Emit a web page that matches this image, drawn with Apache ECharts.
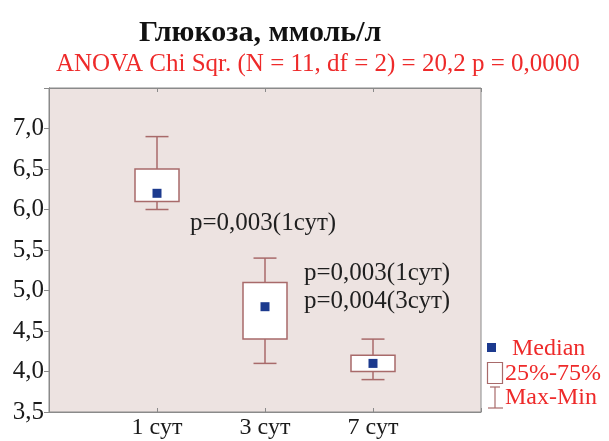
<!DOCTYPE html>
<html>
<head>
<meta charset="utf-8">
<script src="https://cdn.jsdelivr.net/npm/echarts@6/dist/echarts.min.js"></script>
<style>
  html, body { margin: 0; padding: 0; background: #fff; }
  #chart { width: 609px; height: 441px; }
</style>
</head>
<body>
<div id="chart"></div>
<script>
// Glucose by day: min, lower quartile, median, upper quartile, max
const categories = ['1 сут', '3 сут', '7 сут'];
const minValues = [6.0, 4.1, 3.9];
const q1Values = [6.1, 4.4, 4.0];
const medianValues = [6.2, 4.8, 4.1];
const q3Values = [6.5, 5.1, 4.2];
const maxValues = [6.9, 5.4, 4.4];
const yTicks = { min: 3.5, max: 7.5, step: 0.5 };

const titleText = 'Глюкоза, ммоль/л';
const subtitleText = 'ANOVA Chi Sqr. (N = 11, df = 2) = 20,2 p = 0,0000';
const pNotes = [
  { text: 'p=0,003(1сут)', x: 190, y: 209 },
  { text: 'p=0,003(1сут)\np=0,004(3сут)', x: 304, y: 259 }
];
const legendItems = ['Median', '25%-75%', 'Max-Min'];

const SERIF = '"Liberation Serif", "Times New Roman", serif';
const BOX_COLOR = '#a86a6a';
const MEDIAN_COLOR = '#1c3a8e';
const RED = '#ee2a2a';

// category positions on a numeric axis: 1, 2, 3 inside [0, 4]
const boxData = categories.map((c, i) => [i + 1, minValues[i], q1Values[i], medianValues[i], q3Values[i], maxValues[i]]);
const medianData = categories.map((c, i) => [i + 1, medianValues[i]]);

const fmtNum = v => v.toFixed(1).replace('.', ',');

function renderBox(params, api) {
  const x = api.value(0);
  const pMin = api.coord([x, api.value(1)]);
  const pQ1 = api.coord([x, api.value(2)]);
  const pQ3 = api.coord([x, api.value(4)]);
  const pMax = api.coord([x, api.value(5)]);
  const halfBox = 22, halfCap = 11.5;
  const cx = pMin[0];
  const lineStyle = { stroke: BOX_COLOR, lineWidth: 1.5, fill: null };
  return {
    type: 'group',
    children: [
      { type: 'line', shape: { x1: cx, y1: pMax[1], x2: cx, y2: pQ3[1] }, style: lineStyle },
      { type: 'line', shape: { x1: cx, y1: pQ1[1], x2: cx, y2: pMin[1] }, style: lineStyle },
      { type: 'line', shape: { x1: cx - halfCap, y1: pMax[1], x2: cx + halfCap, y2: pMax[1] }, style: lineStyle },
      { type: 'line', shape: { x1: cx - halfCap, y1: pMin[1], x2: cx + halfCap, y2: pMin[1] }, style: lineStyle },
      { type: 'rect', shape: { x: cx - halfBox, y: pQ3[1], width: halfBox * 2, height: pQ1[1] - pQ3[1] },
        style: { fill: '#ffffff', stroke: BOX_COLOR, lineWidth: 1.5 } }
    ]
  };
}

const chart = echarts.init(document.getElementById('chart'), null, { renderer: 'canvas' });

const legendX = 487, legendY = 349, legendStep = 24.5;

chart.setOption({
  animation: false,
  backgroundColor: '#ffffff',
  title: [
    { text: titleText, left: 134, top: 13,
      textStyle: { fontFamily: SERIF, fontWeight: 'bold', fontSize: 30, color: '#111' } },
    { text: subtitleText, left: 51, top: 47,
      textStyle: { fontFamily: SERIF, fontWeight: 'normal', fontSize: 25, color: RED } }
  ],
  grid: {
    left: 49, right: 128, top: 88, bottom: 29,
    show: true, backgroundColor: '#ede3e1', borderColor: '#8a8a8a', borderWidth: 1
  },
  xAxis: [
    {
      type: 'value', min: 0, max: 4, interval: 1, position: 'bottom',
      axisLine: { show: true, lineStyle: { color: '#8a8a8a' } },
      axisTick: { show: true, inside: true, length: 4, lineStyle: { color: '#8a8a8a' } },
      axisLabel: {
        fontFamily: SERIF, fontSize: 24, color: '#1a1a1a', margin: 4,
        formatter: v => categories[v - 1] || ''
      },
      splitLine: { show: false }
    },
    {
      type: 'value', min: 0, max: 4, interval: 1, position: 'top',
      axisLine: { show: true, lineStyle: { color: '#8a8a8a' } },
      axisTick: { show: true, inside: true, length: 4, lineStyle: { color: '#8a8a8a' } },
      axisLabel: { show: false },
      splitLine: { show: false }
    }
  ],
  yAxis: [
    {
      type: 'value', min: yTicks.min, max: yTicks.max, interval: yTicks.step, position: 'left',
      axisLine: { show: true, lineStyle: { color: '#8a8a8a' } },
      axisTick: { show: true, inside: false, length: 3, lineStyle: { color: '#8a8a8a' } },
      axisLabel: {
        fontFamily: SERIF, fontSize: 25, color: '#1a1a1a', margin: 5,
        showMaxLabel: false, formatter: fmtNum
      },
      splitLine: { show: false }
    },
    {
      type: 'value', min: yTicks.min, max: yTicks.max, interval: yTicks.step, position: 'right',
      axisLine: { show: true, lineStyle: { color: '#8a8a8a' } },
      axisTick: { show: true, inside: true, length: 5, lineStyle: { color: '#8a8a8a' } },
      axisLabel: { show: false },
      splitLine: { show: false }
    }
  ],
  series: [
    {
      type: 'custom', name: '25%-75%', xAxisIndex: 0, yAxisIndex: 0,
      renderItem: renderBox, data: boxData, z: 2,
      encode: { x: 0, y: [1, 2, 3, 4, 5] }
    },
    {
      type: 'scatter', name: 'Median', xAxisIndex: 0, yAxisIndex: 0,
      symbol: 'rect', symbolSize: 9, data: medianData, z: 3,
      itemStyle: { color: MEDIAN_COLOR, opacity: 1 }
    }
  ],
  graphic: [
    ...pNotes.map(n => ({
      type: 'text', left: n.x, top: n.y, z: 10,
      style: { text: n.text, font: '25px ' + SERIF, fill: '#1f1f1f', lineHeight: 28 }
    })),
    // legend
    { type: 'rect', shape: { x: legendX, y: legendY - 6, width: 9, height: 9 }, style: { fill: MEDIAN_COLOR } },
    { type: 'rect', shape: { x: legendX + 0.5, y: legendY + legendStep - 11, width: 15, height: 21 },
      style: { fill: '#fff', stroke: BOX_COLOR, lineWidth: 1.2 } },
    { type: 'line', shape: { x1: legendX + 8, y1: legendY + 2 * legendStep - 11, x2: legendX + 8, y2: legendY + 2 * legendStep + 10 },
      style: { stroke: BOX_COLOR, lineWidth: 1.2 } },
    { type: 'line', shape: { x1: legendX + 3, y1: legendY + 2 * legendStep - 11, x2: legendX + 13, y2: legendY + 2 * legendStep - 11 },
      style: { stroke: BOX_COLOR, lineWidth: 1.2 } },
    { type: 'line', shape: { x1: legendX + 1, y1: legendY + 2 * legendStep + 10, x2: legendX + 16, y2: legendY + 2 * legendStep + 10 },
      style: { stroke: BOX_COLOR, lineWidth: 1.2 } },
    ...legendItems.map((t, i) => ({
      type: 'text', z: 10,
      style: { x: i === 0 ? 512 : 505, y: legendY + i * legendStep, text: t,
        font: '24px ' + SERIF, fill: RED, verticalAlign: 'middle', textAlign: 'left' }
    }))
  ]
});
</script>
</body>
</html>
